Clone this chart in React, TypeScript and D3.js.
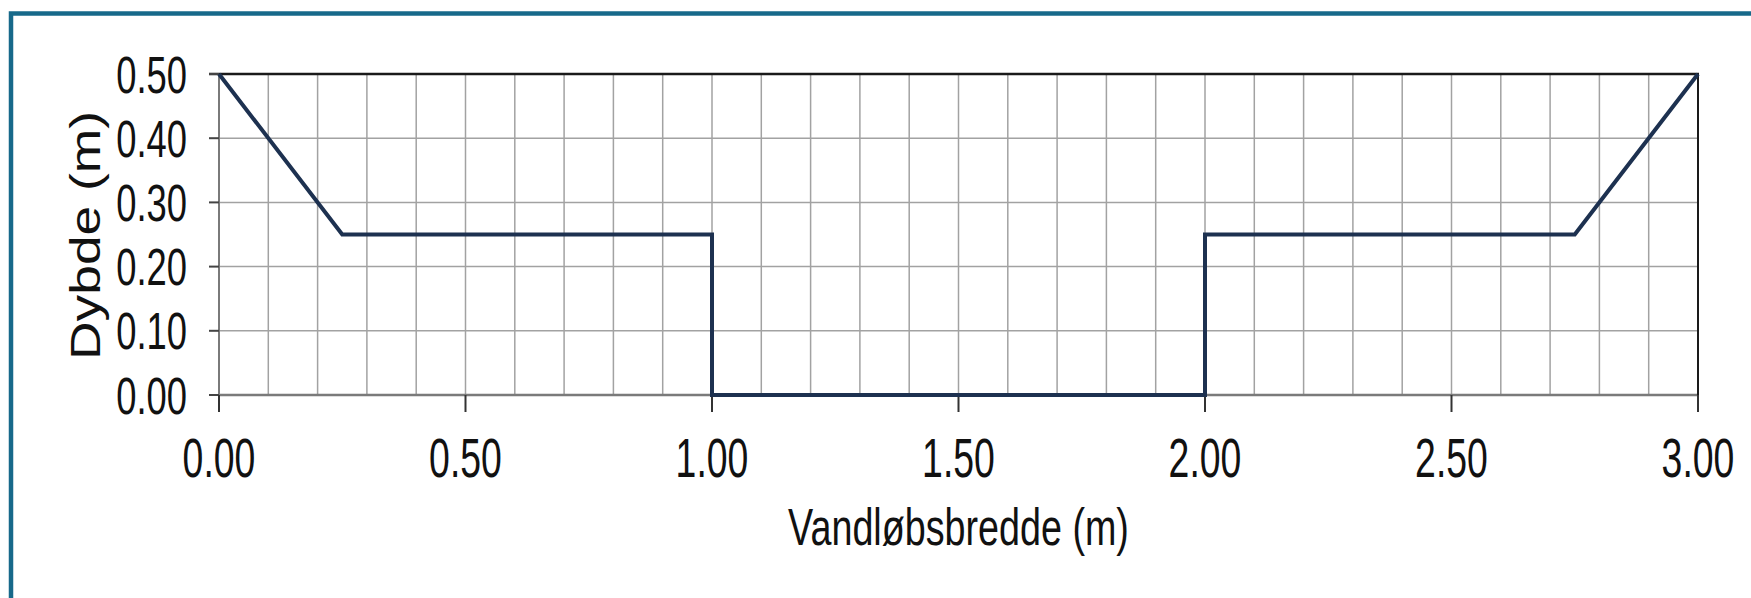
import * as d3 from "d3";
import React, {useEffect, useRef} from "react";

// tværsnit af vandløbet
const bredde = [0, 0.25, 1.0, 1.0, 2.0, 2.0, 2.75, 3.0];
const dybde = [0.5, 0.25, 0.25, 0, 0, 0.25, 0.25, 0.5];

const xTicks = [0, 0.5, 1.0, 1.5, 2.0, 2.5, 3.0];
const yTicks = [0, 0.1, 0.2, 0.3, 0.4, 0.5];
const xTitle = "Vandløbsbredde (m)";
const yTitle = "Dybde (m)";

const W = 1751;
const H = 598;
const margin = {top: 74, right: 53, bottom: 203, left: 219};

const App = () => {
    const svgRef = useRef<SVGSVGElement>(null);

    useEffect(() => {
        const width = W - margin.left - margin.right;
        const height = H - margin.top - margin.bottom;

        const xScale = d3.scaleLinear().domain([0, 3]).range([0, width]);
        const yScale = d3.scaleLinear().domain([0, 0.5]).range([height, 0]);

        const svgEl = d3.select(svgRef.current);
        svgEl.selectAll("*").remove();

        svgEl.append("rect").attr("width", W).attr("height", H).attr("fill", "#fff");

        // ramme
        svgEl.append("rect")
            .attr("x", 11).attr("y", 13.5)
            .attr("width", 2000).attr("height", 1000)
            .attr("fill", "none")
            .attr("stroke", "#17698a")
            .attr("stroke-width", 4.5);

        const svg = svgEl.append("g")
            .attr("transform", `translate(${margin.left},${margin.top})`);

        // gitter
        svg.append("g").selectAll("line")
            .data(xScale.ticks(30))
            .enter().append("line")
            .attr("x1", d => xScale(d)).attr("x2", d => xScale(d))
            .attr("y1", 0).attr("y2", height)
            .attr("stroke", "#a2a2a2").attr("stroke-width", 1.5);

        svg.append("g").selectAll("line")
            .data(yTicks)
            .enter().append("line")
            .attr("x1", 0).attr("x2", width)
            .attr("y1", d => yScale(d)).attr("y2", d => yScale(d))
            .attr("stroke", "#a2a2a2").attr("stroke-width", 1.5);

        // akser
        svg.append("line")
            .attr("x1", 0).attr("x2", 0).attr("y1", 0).attr("y2", height)
            .attr("stroke", "#7a7a7a").attr("stroke-width", 2);
        svg.append("line")
            .attr("x1", 0).attr("x2", width).attr("y1", height).attr("y2", height)
            .attr("stroke", "#7a7a7a").attr("stroke-width", 2.5);
        svg.append("line")
            .attr("x1", -10).attr("x2", width + 1).attr("y1", 0).attr("y2", 0)
            .attr("stroke", "#1a1a1a").attr("stroke-width", 2.5);
        svg.append("line")
            .attr("x1", width).attr("x2", width).attr("y1", 0).attr("y2", height + 17)
            .attr("stroke", "#1a1a1a").attr("stroke-width", 2);

        // y ticks
        svg.append("g").selectAll("line")
            .data(yTicks)
            .enter().append("line")
            .attr("x1", -10).attr("x2", 0)
            .attr("y1", d => yScale(d)).attr("y2", d => yScale(d))
            .attr("stroke", "#444").attr("stroke-width", 2);

        svg.append("g").selectAll("text")
            .data(yTicks)
            .enter().append("text")
            .attr("transform", d => `translate(-32,${yScale(d) + 18.5}) scale(0.7,1)`)
            .attr("text-anchor", "end")
            .attr("font-family", "'Liberation Sans', Arial, sans-serif")
            .attr("font-size", 52)
            .attr("fill", "#111")
            .text(d => d.toFixed(2));

        // x ticks
        svg.append("g").selectAll("line")
            .data(xTicks)
            .enter().append("line")
            .attr("x1", d => xScale(d)).attr("x2", d => xScale(d))
            .attr("y1", height).attr("y2", height + 17)
            .attr("stroke", "#333").attr("stroke-width", 2);

        svg.append("g").selectAll("text")
            .data(xTicks)
            .enter().append("text")
            .attr("transform", d => `translate(${xScale(d)},${height + 82}) scale(0.68,1)`)
            .attr("text-anchor", "middle")
            .attr("font-family", "'Liberation Sans', Arial, sans-serif")
            .attr("font-size", 55)
            .attr("fill", "#111")
            .text(d => d.toFixed(2));

        // aksetitler
        svg.append("text")
            .attr("transform", `translate(${width / 2},${height + 150}) scale(0.725,1)`)
            .attr("text-anchor", "middle")
            .attr("font-family", "'Liberation Sans', Arial, sans-serif")
            .attr("font-size", 52)
            .attr("fill", "#111")
            .text(xTitle);

        svg.append("text")
            .attr("transform", `translate(-119,${height / 2 + 1}) rotate(-90) scale(1.27,1)`)
            .attr("text-anchor", "middle")
            .attr("font-family", "'Liberation Sans', Arial, sans-serif")
            .attr("font-size", 42)
            .attr("fill", "#111")
            .text(yTitle);

        // profil
        const line = d3.line<number>()
            .x((d, i) => xScale(bredde[i]))
            .y(d => yScale(d));

        svg.append("path")
            .datum(dybde)
            .attr("fill", "none")
            .attr("stroke", "#1d3150")
            .attr("stroke-width", 4)
            .attr("stroke-linejoin", "miter")
            .attr("d", line);
    }, []);

    return (
        <svg ref={svgRef} width={W} height={H}
             style={{position: "fixed", left: 0, top: 0, display: "block"}}/>
    );
};

export default App;
